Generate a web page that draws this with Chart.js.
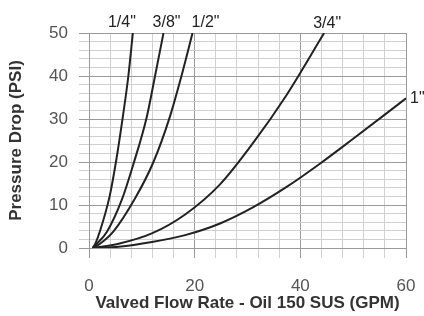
<!DOCTYPE html>
<html>
<head>
<meta charset="utf-8">
<script src="https://cdn.jsdelivr.net/npm/chart.js@4/dist/chart.umd.min.js"></script>
<style>
  html, body { margin: 0; padding: 0; background: #fff; }
  #wrap { width: 424px; height: 316px; }
</style>
</head>
<body>
<div id="wrap"><canvas id="chart"></canvas></div>
<script>
// valve sizes
const sizes = ['1/4"', '3/8"', '1/2"', '3/4"', '1"'];

// flow (GPM) / pressure drop (PSI)
const flow14 = [0.7, 1.2, 2.1, 3.9, 5.1, 6.4, 7.45, 8.3];
const psi14 = [0, 1, 4, 12, 20, 30.5, 40, 50];
const flow38 = [0.7, 1.5, 3.4, 6.2, 8.4, 10.9, 12.5, 14.1];
const psi38 = [0, 1, 3.8, 11.2, 19.5, 30.3, 40, 50];
const flow12 = [0.7, 2.1, 4.6, 8.7, 12.2, 15.3, 17.5, 19.6];
const psi12 = [0, 1, 3.8, 11.5, 20, 30.5, 40, 50];
const flow34 = [0.7, 5.6, 11.9, 18.2, 24.8, 31.1, 37.4, 44.5];
const psi34 = [0, 1, 3.4, 7.8, 14.8, 24.5, 35.6, 50];
const flow1 = [0.7, 5.6, 11.9, 18.2, 24.8, 31.1, 37.4, 43.7, 50, 56.3, 60];
const psi1 = [0, 0.3, 1.4, 3, 5.7, 9.5, 14.2, 19.6, 25.4, 31.3, 34.8];

const flows = [flow14, flow38, flow12, flow34, flow1];
const psis = [psi14, psi38, psi12, psi34, psi1];

function toPoints(xs, ys) {
    return xs.map((x, i) => ({ x: x, y: ys[i] }));
}

const datasets = sizes.map((s, i) => ({
    label: s,
    data: toPoints(flows[i], psis[i]),
    showLine: true,
    borderColor: "#222",
    borderWidth: 2,
    pointRadius: 0,
    cubicInterpolationMode: "monotone"
}));

// where each curve label sits relative to the curve's end
const labelOffsets = [[-11, -10, "center"], [3, -10, "center"], [13, -10, "center"], [3, -9, "center"], [4, 0, "left"]];

const curveLabels = {
    id: "curveLabels",
    afterDatasetsDraw(chart) {
        const ctx = chart.ctx;
        ctx.save();
        ctx.font = "16px 'Liberation Sans', Arial, sans-serif";
        ctx.fillStyle = "#222";
        ctx.textBaseline = "middle";
        chart.data.datasets.forEach((ds, i) => {
            const meta = chart.getDatasetMeta(i);
            const last = meta.data[meta.data.length - 1];
            const off = labelOffsets[i];
            ctx.textAlign = off[2];
            ctx.fillText(ds.label, last.x + off[0], last.y + off[1]);
        });
        ctx.restore();
    }
};

const major = "#9a9a9a";
const minor = "#d0d0d0";
const fontFamily = "'Liberation Sans', Arial, sans-serif";

const context = document.getElementById("chart").getContext("2d");
const chart = new Chart(context, {
    type: "scatter",
    data: { datasets },
    options: {
        responsive: true,
        maintainAspectRatio: false,
        animation: false,
        layout: { padding: { top: 33, right: 18, left: 0, bottom: 0 } },
        plugins: { legend: { display: false }, tooltip: { enabled: false } },
        scales: {
            x: {
                type: "linear",
                min: 0,
                max: 60,
                afterFit: (scale) => {
                    scale.height = 68;
                    scale.paddingLeft = 0;
                    scale.paddingRight = 0;
                },
                ticks: {
                    stepSize: 4,
                    autoSkip: false,
                    maxRotation: 0,
                    padding: 18,
                    color: "#555",
                    font: { family: fontFamily, size: 17 },
                    callback: (v) => (v % 20 === 0 ? v : "")
                },
                grid: {
                    tickLength: 10,
                    color: (c) => (c.tick && c.tick.value % 20 === 0 ? major : minor),
                    tickColor: (c) => (c.tick && c.tick.value % 20 === 0 ? major : minor)
                },
                border: { color: major },
                title: {
                    display: true,
                    text: "Valved Flow Rate - Oil 150 SUS (GPM)",
                    color: "#333",
                    font: { family: fontFamily, size: 17, weight: "bold" },
                    padding: { top: 0, bottom: 2 }
                }
            },
            y: {
                min: 0,
                max: 50,
                afterFit: (scale) => { scale.width = 89; },
                ticks: {
                    stepSize: 2,
                    autoSkip: false,
                    padding: 11,
                    color: "#555",
                    font: { family: fontFamily, size: 17 },
                    callback: (v) => (v % 10 === 0 ? v : "")
                },
                grid: {
                    tickLength: 10,
                    color: (c) => (c.tick && c.tick.value % 10 === 0 ? major : minor),
                    tickColor: (c) => (c.tick && c.tick.value % 10 === 0 ? major : minor)
                },
                border: { color: major },
                title: {
                    display: true,
                    text: "Pressure Drop (PSI)",
                    color: "#333",
                    font: { family: fontFamily, size: 17, weight: "bold" },
                    padding: { top: 6, bottom: 0 }
                }
            }
        }
    },
    plugins: [curveLabels]
});
</script>
</body>
</html>
